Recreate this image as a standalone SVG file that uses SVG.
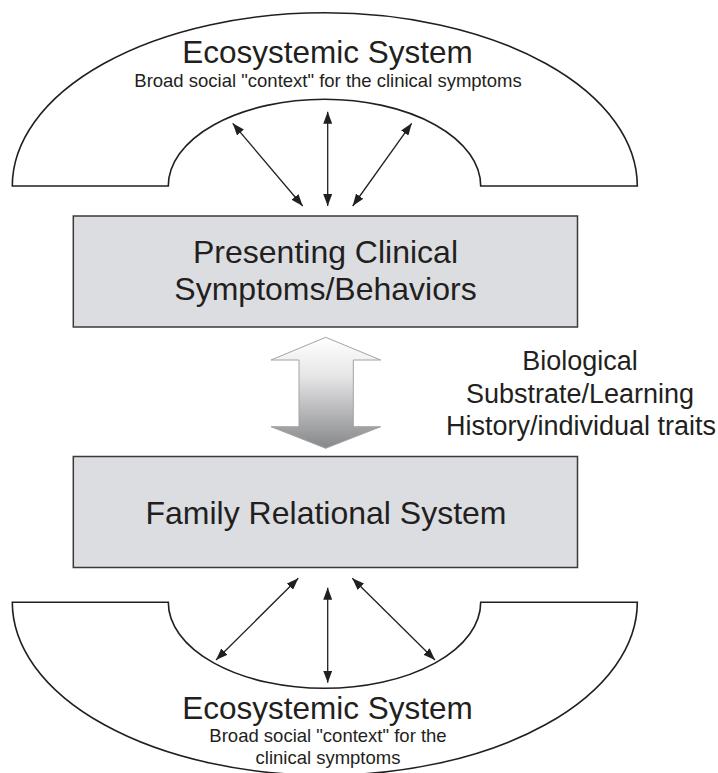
<svg xmlns="http://www.w3.org/2000/svg" width="718" height="773" viewBox="0 0 718 773">
  <defs>
    <style>
      .arch { fill: #ffffff; stroke: #231f20; stroke-width: 1.6; }
      .box { fill: #dcdde0; stroke: #3a3a3a; stroke-width: 1.5; }
      .conn { stroke: #231f20; stroke-width: 1.3; fill: none; marker-start: url(#ah); marker-end: url(#ah); }
      text { font-family: "Liberation Sans", Arial, Helvetica, sans-serif; fill: #231f20; text-anchor: middle; }
      .title { font-size: 31.5px; }
      .sub { font-size: 18.5px; }
      .label { font-size: 32px; }
      .side { font-size: 27px; }
    </style>
    <marker id="ah" viewBox="0 0 12 9" refX="12" refY="4.5" markerWidth="12" markerHeight="9" markerUnits="userSpaceOnUse" orient="auto-start-reverse">
      <path d="M0,0 L12,4.5 L0,9 Z" fill="#231f20"/>
    </marker>
    <linearGradient id="grad" x1="0" y1="0" x2="0" y2="1">
      <stop offset="0" stop-color="#ffffff"/>
      <stop offset="0.35" stop-color="#e6e6e7"/>
      <stop offset="1" stop-color="#86878a"/>
    </linearGradient>
  </defs>

  <g id="eco-top">
    <path class="arch" d="M12.3,186 A312.5,173.3 0 0 1 637.3,186 L480.7,186 A156.2,86.7 0 0 0 168.3,186 Z"/>
    <text class="title" x="327.5" y="63">Ecosystemic System</text>
    <text class="sub" x="328" y="86.5">Broad social "context" for the clinical symptoms</text>
  </g>

  <g id="presenting">
    <rect class="box" x="73.3" y="216" width="504.2" height="111"/>
    <text class="label" x="325.5" y="263">Presenting Clinical</text>
    <text class="label" x="325.5" y="300">Symptoms/Behaviors</text>
  </g>

  <g id="biological">
    <path d="M325.7,337.3 L380.7,360 L353.3,360 L353.3,426.7 L380.7,426.7 L325.7,448.3 L271,426.7 L299,426.7 L299,360 L271,360 Z" fill="url(#grad)" stroke="#a3a4a6" stroke-width="1"/>
    <text class="side" x="580" y="370">Biological</text>
    <text class="side" x="580" y="403">Substrate/Learning</text>
    <text class="side" x="581" y="435">History/individual traits</text>
  </g>

  <g id="family">
    <rect class="box" x="73.3" y="456.5" width="504.2" height="111"/>
    <text class="label" x="326" y="524">Family Relational System</text>
  </g>

  <g id="eco-bottom">
    <path class="arch" d="M12.3,602.3 L168.3,602.3 A156.2,86 0 0 0 480.7,602.3 L637.3,602.3 A312.5,173 0 0 1 12.3,602.3 Z"/>
    <text class="title" x="327.5" y="719">Ecosystemic System</text>
    <text class="sub" x="328" y="741.5">Broad social "context" for the</text>
    <text class="sub" x="328" y="763.5">clinical symptoms</text>
  </g>

  <g id="connectors">
    <line class="conn" x1="232.7" y1="123.3" x2="302.7" y2="206"/>
    <line class="conn" x1="327.7" y1="111.7" x2="327.7" y2="206"/>
    <line class="conn" x1="411.7" y1="123.3" x2="352.7" y2="206"/>
    <line class="conn" x1="298.3" y1="578.3" x2="216" y2="660"/>
    <line class="conn" x1="327.7" y1="587.7" x2="327.7" y2="682.7"/>
    <line class="conn" x1="352.3" y1="578.3" x2="435" y2="660"/>
  </g>
</svg>
